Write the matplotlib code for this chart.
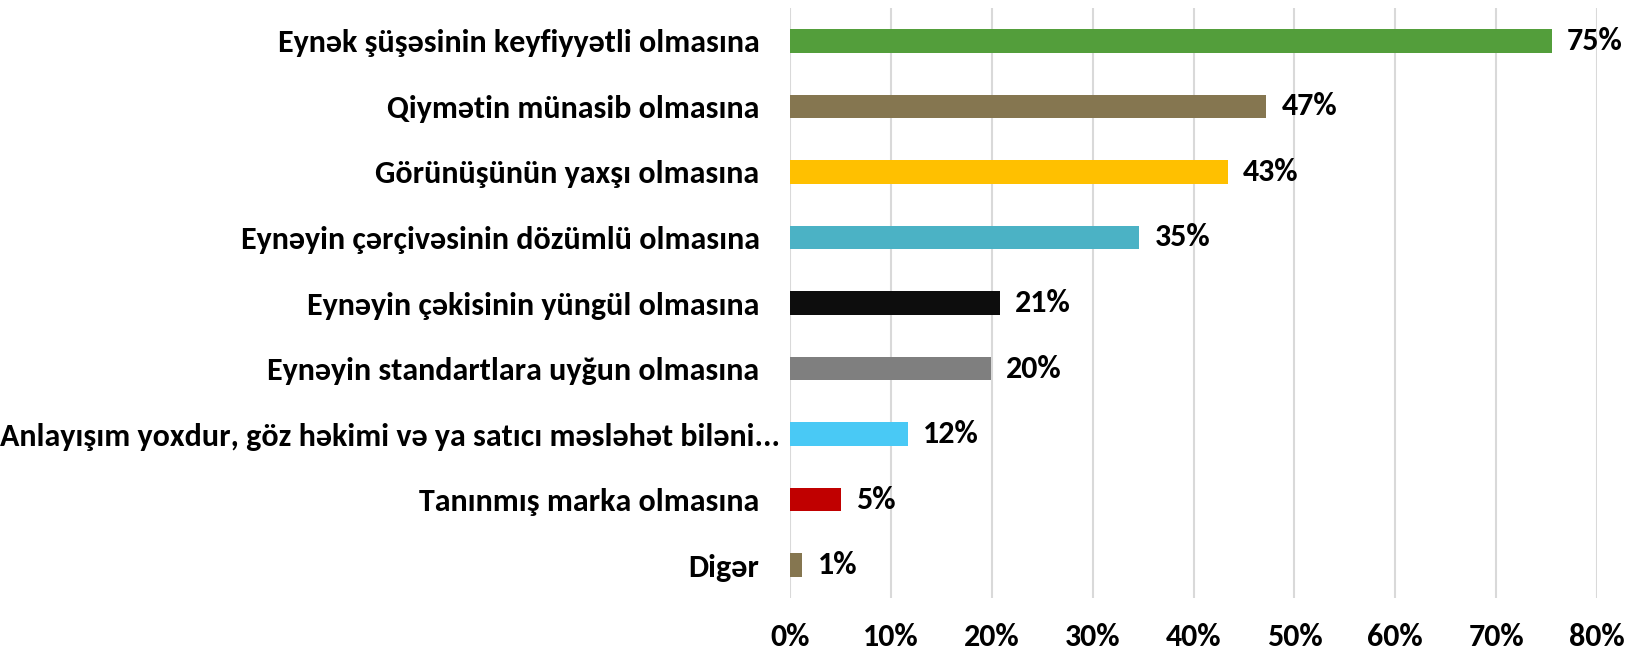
import matplotlib.pyplot as plt
import matplotlib.transforms as mtransforms

# Carlito is metric-compatible with Calibri; DejaVu covers any missing glyph
plt.rcParams['font.family'] = ['Carlito', 'DejaVu Sans']
plt.rcParams['font.weight'] = 'bold'

# Data (top to bottom)
labels = ['Eynək şüşəsinin keyfiyyətli olmasına',
          'Qiymətin münasib olmasına',
          'Görünüşünün yaxşı olmasına',
          'Eynəyin çərçivəsinin dözümlü olmasına',
          'Eynəyin çəkisinin yüngül olmasına',
          'Eynəyin standartlara uyğun olmasına',
          'Anlayışım yoxdur, göz həkimi və ya satıcı məsləhət biləni...',
          'Tanınmış marka olmasına',
          'Digər']
values = [75.5, 47.2, 43.4, 34.6, 20.8, 19.9, 11.7, 5.0, 1.2]
value_labels = ['75%', '47%', '43%', '35%', '21%', '20%', '12%', '5%', '1%']
colors = ['#539E3B', '#857650', '#FFC000', '#4BB2C5', '#0D0D0D',
          '#7F7F7F', '#49C9F5', '#C00000', '#857650']

fig = plt.figure(figsize=(16.26, 6.52), dpi=100)
ax = fig.add_axes([0.4859, 0.0828, 0.4963, 0.9049])

y = list(range(len(labels)))
ax.barh(y, values, height=0.36, color=colors, zorder=3)

for yi, v, t in zip(y, values, value_labels):
    ax.annotate(t, (v, yi), xytext=(11, 0), textcoords='offset points',
                va='center', ha='left', fontsize=23, fontweight='bold')

ax.set_xlim(0, 80)
ax.set_ylim(len(labels) - 0.5, -0.5)
ax.set_xticks(range(0, 81, 10))
ax.set_xticklabels([f'{i}%' for i in range(0, 81, 10)])
ax.set_yticks(y)
ax.set_yticklabels(labels)

ax.tick_params(axis='x', length=0, pad=18, labelsize=23)
ax.tick_params(axis='y', length=0, pad=22, labelsize=23)
for lab in ax.get_xticklabels() + ax.get_yticklabels():
    lab.set_fontweight('bold')

# the long truncated label sits closer to the axis
long_lab = ax.get_yticklabels()[6]
long_lab.set_transform(long_lab.get_transform() +
                       mtransforms.ScaledTranslation(15 / 72, 0, fig.dpi_scale_trans))

ax.grid(axis='x', color='#D9D9D9', linewidth=1.5, zorder=0)
for s in ax.spines.values():
    s.set_visible(False)

fig.savefig('out.png', dpi=100)
